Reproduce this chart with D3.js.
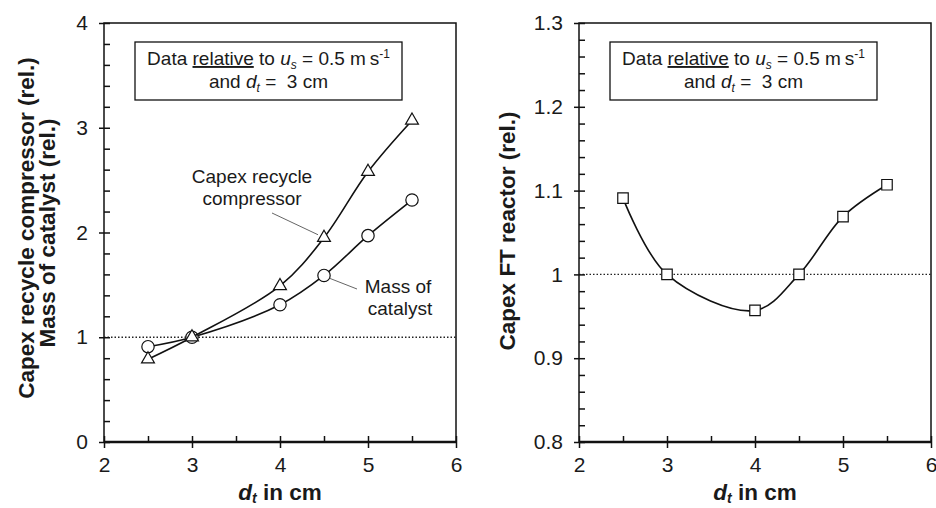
<!DOCTYPE html>
<html lang="en">
<head>
<meta charset="UTF-8">
<script src="https://d3js.org/d3.v7.min.js"></script>
<title>Capex vs tube diameter</title>
<style>
  body { margin: 0; background: #fff; }
  svg { display: block; }
  text { font-family: "Liberation Sans", Arial, sans-serif; fill: #1a1a1a; }
  .tick text { font-size: 21px; }
  .axis-title { font-size: 22.5px; font-weight: bold; }
  .note { font-size: 19px; }
  .label { font-size: 19px; }
</style>
</head>
<body>
<div id="chart"></div>
<script>
// tube diameter d_t (cm)
var dtValues = [2.5, 3, 4, 4.5, 5, 5.5];
// left panel, relative to d_t = 3 cm
var compressorRel = [0.79, 1.0, 1.49, 1.95, 2.58, 3.07];
var catalystRel = [0.91, 1.0, 1.31, 1.59, 1.97, 2.31];
// right panel
var ftReactorRel = [1.091, 1.0, 0.957, 1.0, 1.069, 1.107];

var xTicks = [2, 3, 4, 5, 6];
var leftYTicks = [0, 1, 2, 3, 4];
var rightYTicks = [0.8, 0.9, 1.0, 1.1, 1.2, 1.3];

var width = 936, height = 508;

var svg = d3.select("#chart").append("svg")
    .attr("width", width)
    .attr("height", height);

// draw one framed panel, return its scales
function panel(left, right, yDomain, yTicks, yMinorCount) {
    var top = 23, bottom = 442;
    var x = d3.scaleLinear().domain([2, 6]).range([left, right]);
    var y = d3.scaleLinear().domain(yDomain).range([bottom, top]);
    var g = svg.append("g");

    // frame
    g.append("rect")
        .attr("x", left).attr("y", top)
        .attr("width", right - left).attr("height", bottom - top)
        .attr("fill", "none").attr("stroke", "#111").attr("stroke-width", 1.5);

    // reference line at 1
    g.append("line")
        .attr("x1", left).attr("x2", right)
        .attr("y1", y(1)).attr("y2", y(1))
        .attr("stroke", "#222").attr("stroke-width", 1.3)
        .attr("stroke-dasharray", "1.5,2");

    // y axis: outward major ticks with labels
    var yAxis = g.append("g").attr("transform", "translate(" + left + ",0)")
        .call(d3.axisLeft(y).tickValues(yTicks).tickSize(5).tickPadding(11)
            .tickFormat(d3.format("~g")));
    // inward ticks, major and minor
    var yIn = g.append("g").attr("transform", "translate(" + left + ",0)")
        .call(d3.axisRight(y).tickValues(y.ticks(yMinorCount)).tickSize(6).tickFormat(""));

    var xAxis = g.append("g").attr("transform", "translate(0," + bottom + ")")
        .call(d3.axisBottom(x).tickValues(xTicks).tickSize(6).tickPadding(9)
            .tickFormat(d3.format("d")));
    var xIn = g.append("g").attr("transform", "translate(0," + bottom + ")")
        .call(d3.axisTop(x).tickValues(x.ticks(8)).tickSize(6).tickFormat(""));

    [yAxis, yIn, xAxis, xIn].forEach(function (a) {
        a.select(".domain").remove();
        a.selectAll(".tick line").attr("stroke", "#111").attr("stroke-width", 1.5);
    });

    // heavier bottom axis line
    g.append("line")
        .attr("x1", left).attr("x2", right)
        .attr("y1", bottom).attr("y2", bottom)
        .attr("stroke", "#111").attr("stroke-width", 2.5);

    // x title: d_t in cm
    var xt = g.append("text").attr("class", "axis-title")
        .attr("x", (left + right) / 2).attr("y", 500)
        .attr("text-anchor", "middle");
    xt.append("tspan").attr("font-style", "italic").text("d");
    xt.append("tspan").attr("font-style", "italic").attr("font-size", "14px").attr("dy", 3).text("t");
    xt.append("tspan").attr("dy", -3).text(" in cm");

    // note box
    var bx = left + 31, bw = 267;
    g.append("rect")
        .attr("x", bx).attr("y", 42).attr("width", bw).attr("height", 58)
        .attr("fill", "#fff").attr("stroke", "#111").attr("stroke-width", 1.3);
    var cx = bx + bw / 2;
    var n1 = g.append("text").attr("class", "note").attr("x", cx).attr("y", 65).attr("text-anchor", "middle");
    n1.append("tspan").text("Data ");
    n1.append("tspan").attr("text-decoration", "underline").text("relative");
    n1.append("tspan").text(" to ");
    n1.append("tspan").attr("font-style", "italic").text("u");
    n1.append("tspan").attr("font-style", "italic").attr("font-size", "12px").attr("dy", 4).text("s");
    n1.append("tspan").attr("dy", -4).text(" = 0.5 m\u2009s");
    n1.append("tspan").attr("font-size", "12px").attr("dy", -7).text("-1");
    var n2 = g.append("text").attr("class", "note").attr("x", cx).attr("y", 88).attr("text-anchor", "middle");
    n2.append("tspan").text("and ");
    n2.append("tspan").attr("font-style", "italic").text("d");
    n2.append("tspan").attr("font-style", "italic").attr("font-size", "12px").attr("dy", 4).text("t");
    n2.append("tspan").attr("dy", -4).text(" =\u00a0 3 cm");

    return { g: g, x: x, y: y };
}

function series(p, values, marker) {
    var pts = dtValues.map(function (d, i) { return [p.x(d), p.y(values[i])]; });
    p.g.append("path")
        .attr("d", d3.line().curve(d3.curveCatmullRom.alpha(0.5))(pts))
        .attr("fill", "none").attr("stroke", "#111").attr("stroke-width", 1.6);
    var sym = d3.symbol().type(marker.type).size(marker.size);
    p.g.selectAll(null).data(pts).enter().append("path")
        .attr("transform", function (d) { return "translate(" + d[0] + "," + d[1] + ")"; })
        .attr("d", sym)
        .attr("fill", "#fff").attr("stroke", "#111").attr("stroke-width", 1.2);
}

/* left panel */
var pL = panel(104, 456, [0, 4], leftYTicks, 20);
series(pL, catalystRel, { type: d3.symbolCircle, size: 120 });
series(pL, compressorRel, { type: d3.symbolTriangle, size: 72 });

pL.g.append("text").attr("class", "axis-title")
    .attr("transform", "translate(34,228) rotate(-90)")
    .attr("text-anchor", "middle")
    .text("Capex recycle compressor (rel.)");
pL.g.append("text").attr("class", "axis-title")
    .attr("transform", "translate(55,233) rotate(-90)")
    .attr("text-anchor", "middle")
    .text("Mass of catalyst (rel.)");

// callouts
pL.g.append("text").attr("class", "label").attr("x", 252).attr("y", 183).attr("text-anchor", "middle").text("Capex recycle");
pL.g.append("text").attr("class", "label").attr("x", 252).attr("y", 205).attr("text-anchor", "middle").text("compressor");
pL.g.append("line").attr("x1", 272).attr("y1", 213).attr("x2", pL.x(4.5) - 6).attr("y2", pL.y(1.95) - 3)
    .attr("stroke", "#666").attr("stroke-width", 1);
pL.g.append("text").attr("class", "label").attr("x", 398).attr("y", 293).attr("text-anchor", "middle").text("Mass of");
pL.g.append("text").attr("class", "label").attr("x", 400).attr("y", 315).attr("text-anchor", "middle").text("catalyst");
pL.g.append("line").attr("x1", pL.x(4.5) + 6).attr("y1", pL.y(1.59) + 3).attr("x2", 357).attr("y2", 289)
    .attr("stroke", "#666").attr("stroke-width", 1);

/* right panel */
var pR = panel(579, 931, [0.8, 1.3], rightYTicks, 25);
series(pR, ftReactorRel, { type: d3.symbolSquare, size: 110 });

pR.g.append("text").attr("class", "axis-title")
    .attr("transform", "translate(515,231) rotate(-90)")
    .attr("text-anchor", "middle")
    .text("Capex FT reactor (rel.)");
</script>
</body>
</html>
